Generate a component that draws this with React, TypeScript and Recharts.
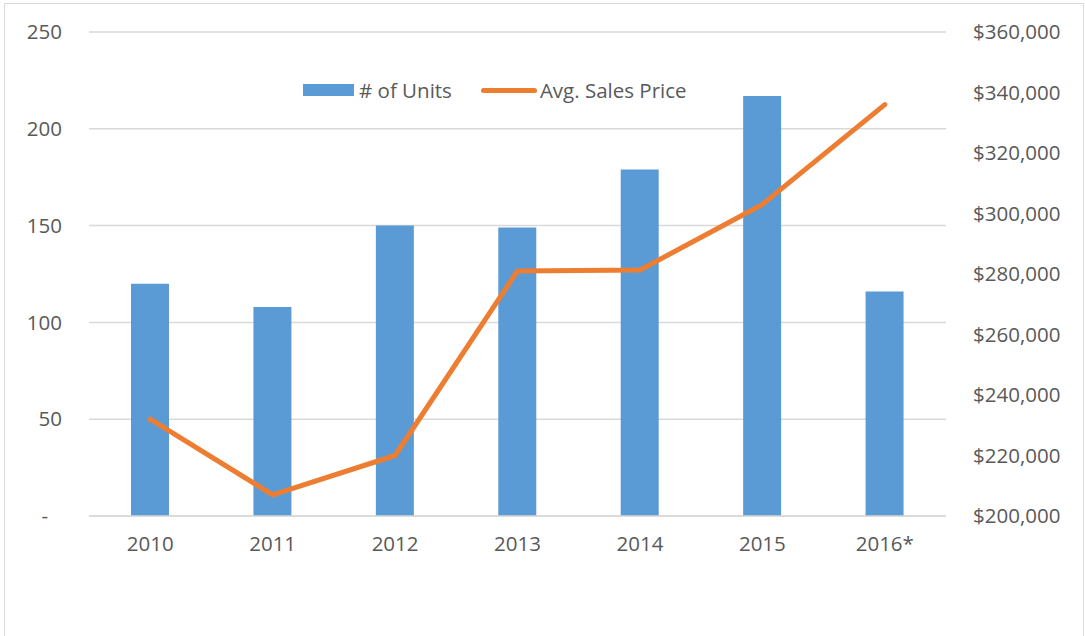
import React from "react";
import {
  ComposedChart,
  Bar,
  Line,
  XAxis,
  YAxis,
  CartesianGrid,
  Legend,
} from "recharts";

const years = ["2010", "2011", "2012", "2013", "2014", "2015", "2016*"];
const units = [120, 108, 150, 149, 179, 217, 116];
const avgPrice = [232000, 207000, 220000, 281000, 281300, 303000, 336000];
const unitTicks = [0, 50, 100, 150, 200, 250];
const priceTicks = [200000, 220000, 240000, 260000, 280000, 300000, 320000, 340000, 360000];

const data = years.map((year, i) => ({
  year,
  units: units[i],
  price: avgPrice[i],
}));

const FONT = "'Open Sans', sans-serif";
const FS = 20.5;
const TEXT = "#595959";
const BLUE = "#5B9BD5";
const ORANGE = "#ED7D31";

function LeftTick(props: any) {
  const { x, y, payload } = props;
  const zero = payload.value === 0;
  return (
    <text
      x={x - (zero ? 14 : 0)}
      y={y}
      dy="0.355em"
      textAnchor="end"
      fill={TEXT}
      fontSize={FS}
      fontFamily={FONT}
    >
      {zero ? "-" : payload.value}
    </text>
  );
}

function ChartLegend() {
  return (
    <div
      style={{
        display: "flex",
        alignItems: "center",
        fontFamily: FONT,
        fontSize: FS,
        color: TEXT,
        whiteSpace: "nowrap",
      }}
    >
      <span style={{ width: 51, height: 12, background: BLUE, display: "inline-block" }} />
      <span style={{ marginLeft: 5 }}># of Units</span>
      <span
        style={{
          width: 56,
          height: 5,
          borderRadius: 3,
          background: ORANGE,
          display: "inline-block",
          marginLeft: 29,
        }}
      />
      <span style={{ marginLeft: 3 }}>Avg. Sales Price</span>
    </div>
  );
}

export default function App() {
  return (
    <div
      style={{
        position: "absolute",
        left: 0,
        top: 0,
        width: 1085,
        height: 636,
        background: "#fff",
        overflow: "hidden",
      }}
    >
      <div
        style={{
          position: "absolute",
          left: 4,
          top: 3,
          width: 1078,
          height: 650,
          border: "1px solid #D9D9D9",
        }}
      />
      <ComposedChart
        width={1085}
        height={636}
        data={data}
        margin={{ top: 32, right: 0, bottom: 80, left: 0 }}
      >
        <CartesianGrid vertical={false} stroke="#D9D9D9" strokeWidth={1.5} yAxisId="left" />
        <XAxis
          dataKey="year"
          axisLine={{ stroke: "#D9D9D9", strokeWidth: 1.5 }}
          tickLine={false}
          height={40}
          tickMargin={14}
          tick={{ fill: TEXT, fontSize: FS, fontFamily: FONT }}
        />
        <YAxis
          yAxisId="left"
          domain={[0, 250]}
          ticks={unitTicks}
          width={89}
          axisLine={false}
          tickLine={false}
          tickMargin={21}
          tick={<LeftTick />}
        />
        <YAxis
          yAxisId="right"
          orientation="right"
          domain={[200000, 360000]}
          ticks={priceTicks}
          width={139}
          axisLine={false}
          tickLine={false}
          tickMargin={21}
          tickFormatter={(v: number) => `$${v.toLocaleString("en-US")}`}
          tick={{ fill: TEXT, fontSize: FS, fontFamily: FONT }}
        />
        <Legend
          content={<ChartLegend />}
          layout="horizontal"
          verticalAlign="middle"
          align="center"
          wrapperStyle={{ position: "absolute", top: 76, left: 303, width: 420 }}
        />
        <Bar
          yAxisId="left"
          dataKey="units"
          name="# of Units"
          fill={BLUE}
          barSize={38}
          isAnimationActive={false}
        />
        <Line
          yAxisId="right"
          dataKey="price"
          name="Avg. Sales Price"
          stroke={ORANGE}
          strokeWidth={5}
          strokeLinecap="round"
          strokeLinejoin="round"
          dot={false}
          activeDot={false}
          type="linear"
          isAnimationActive={false}
        />
      </ComposedChart>
    </div>
  );
}
